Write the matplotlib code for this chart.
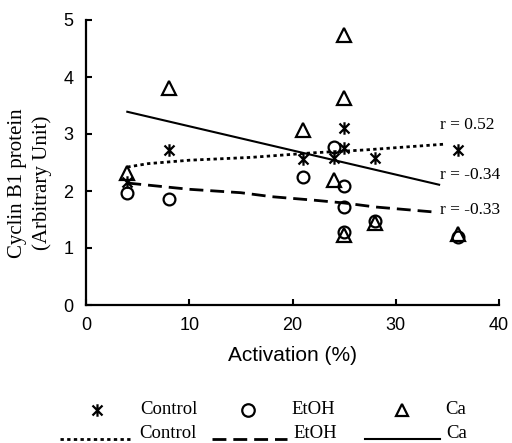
import matplotlib
matplotlib.use("Agg")
import matplotlib.pyplot as plt
from matplotlib.path import Path
from matplotlib.lines import Line2D

# activation (%) of each sample
act = [4, 8, 21, 24, 25, 25, 25, 28, 36]

control = [2.15, 2.72, 2.56, 2.58, 3.1, 2.75, None, 2.58, 2.72]
etoh = [1.97, 1.86, 2.25, 2.77, 2.09, 1.72, 1.28, 1.47, 1.2]
ca = [2.32, 3.8, 3.07, 2.19, 4.74, 3.63, 1.23, 1.44, 1.25]

# trend lines
ctrl_fit_x = [4, 6, 10, 16, 22, 27, 34.6]
ctrl_fit_y = [2.42, 2.48, 2.54, 2.59, 2.67, 2.72, 2.82]
etoh_fit_x = [4, 10, 15, 18, 22, 25, 28, 33.8]
etoh_fit_y = [2.14, 2.03, 1.97, 1.9, 1.84, 1.79, 1.72, 1.63]
ca_fit_x = [4, 34.2]
ca_fit_y = [3.39, 2.11]

r_labels = ["r = 0.52", "r = -0.34", "r = -0.33"]
r_y = [3.15, 2.28, 1.67]

serif = ["Liberation Serif", "DejaVu Serif"]
sans = ["Liberation Sans", "DejaVu Sans"]

# excel style asterisk: an X with a vertical bar
star = Path([(0, -1), (0, 1), (-0.8, -0.8), (0.8, 0.8), (-0.8, 0.8), (0.8, -0.8)],
            [Path.MOVETO, Path.LINETO] * 3)

W, H = 512, 443
fig = plt.figure(figsize=(W / 100, H / 100), dpi=100)
ax = fig.add_axes([86 / W, 1 - 305 / H, (499 - 86) / W, (305 - 20) / H])

cx = [a for a, c in zip(act, control) if c is not None]
cy = [c for c in control if c is not None]
ax.plot(cx, cy, ls="none", marker=star, ms=9, mew=1.6, color="black", clip_on=False)
ax.plot(act, etoh, ls="none", marker="o", ms=8.5, mew=1.6, mfc="none", color="black", clip_on=False)
ax.plot(act, ca, ls="none", marker="^", ms=9.5, mew=1.6, mfc="none", color="black", clip_on=False)

ax.plot(ctrl_fit_x, ctrl_fit_y, color="black", lw=2, ls=(0, (1.2, 1.2)))
ax.plot(etoh_fit_x, etoh_fit_y, color="black", lw=2, ls=(0, (5, 2.5)))
ax.plot(ca_fit_x, ca_fit_y, color="black", lw=1.5)

for lab, yv in zip(r_labels, r_y):
    ax.text(34.3, yv, lab, family=serif, fontsize=12.5, va="center", ha="left")

ax.set_xlim(0, 40)
ax.set_ylim(0, 5)
ax.set_xticks([0, 10, 20, 30, 40])
ax.set_yticks([0, 1, 2, 3, 4, 5])
ax.spines["top"].set_visible(False)
ax.spines["right"].set_visible(False)
for s in ("left", "bottom"):
    ax.spines[s].set_linewidth(1.6)
ax.tick_params(direction="in", length=4, width=1.5, labelsize=13, pad=9)
for t in ax.get_xticklabels() + ax.get_yticklabels():
    t.set_family(sans)

ax.set_xlabel("Activation (%)", family=sans, fontsize=15, labelpad=8)
fig.text(30 / W, 1 - 183 / H, "Cyclin B1 protein\n(Arbitrary Unit)", family=serif,
         fontsize=15, rotation=90, ha="center", va="center", multialignment="center",
         linespacing=1.35)

# legend, drawn by hand in two rows
def fx(px):
    return px / W

def fy(py):
    return 1 - py / H

row1, row2 = 409, 433
for mx, mk, lab in [(97, star, "Control"), (248, "o", "EtOH"), (402, "^", "Ca")]:
    fig.add_artist(Line2D([fx(mx)], [fy(row1 + 1)], marker=mk, ms=9, mew=1.6, mfc="none",
                          color="black", ls="none"))
    fig.text(fx(mx + 43), fy(row1), lab, family=serif, fontsize=13.5, va="center", ha="left")
for x0, x1, st, lab in [(60, 133, (0, (1.2, 1.2)), "Control"), (212, 287, (0, (5, 2.5)), "EtOH"),
                        (365, 440, "-", "Ca")]:
    fig.add_artist(Line2D([fx(x0), fx(x1)], [fy(row2 + 6), fy(row2 + 6)], color="black",
                          lw=2 if st != "-" else 1.5, ls=st))
    fig.text(fx(x1 + 6), fy(row2), lab, family=serif, fontsize=13.5, va="center", ha="left")

fig.savefig("out.png", dpi=100)
